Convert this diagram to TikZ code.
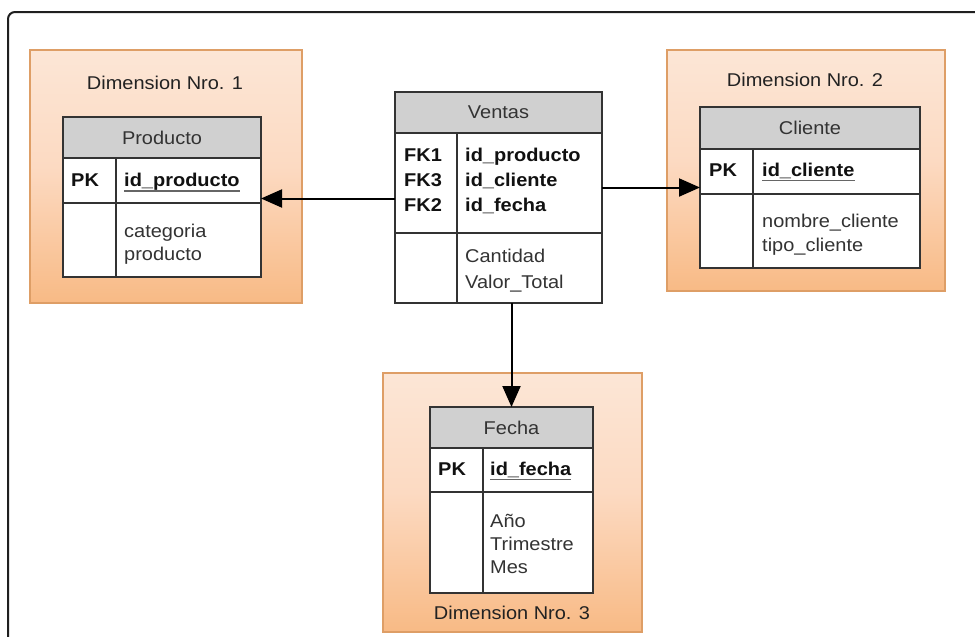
\documentclass[tikz,border=0pt]{standalone}
\usepackage{fontspec}
\setmainfont{Liberation Sans}[FakeStretch=1.08]
\usetikzlibrary{arrows.meta}
\newcommand\dfont{\fontsize{18.5pt}{24pt}\selectfont}
\definecolor{tline}{HTML}{333333}
\definecolor{hdrgray}{HTML}{D0D0D0}
\definecolor{hdrtext}{HTML}{333333}
\definecolor{dimedge}{HTML}{DE9E66}
\definecolor{dimbot}{HTML}{F8BA85}
\definecolor{dimmid}{HTML}{FCDAC2}
\definecolor{dimtop}{HTML}{FCE6D6}
\definecolor{titletext}{HTML}{222222}
\definecolor{attrtext}{HTML}{333333}
\definecolor{keytext}{HTML}{111111}
\definecolor{ulinecol}{HTML}{666666}
\pgfdeclareverticalshading{dimshade}{100bp}{color(0bp)=(dimbot); color(25bp)=(dimbot); color(52bp)=(dimmid); color(75bp)=(dimtop); color(100bp)=(dimtop)}
\tikzset{
  cell/.style={draw=tline, line width=1.9pt, fill=white, inner sep=0pt, outer sep=0pt, anchor=north west},
  hdr/.style={cell, fill=hdrgray, text=hdrtext, font=\dfont},
  dimbox/.style={draw=dimedge, line width=1.4pt, inner sep=0pt, outer sep=0pt, anchor=north west, shading=dimshade},
  dimtitle/.style={inner sep=0pt, text=titletext, font=\dfont},
  keytxt/.style={anchor=base west, inner sep=0pt, text=keytext, font=\dfont\bfseries},
  attr/.style={anchor=base west, inner sep=0pt, text=attrtext, font=\dfont},
  uline/.style={draw=ulinecol, line width=1.4pt},
  arr/.style={draw=black, line width=2pt, -{Triangle[length=21pt,width=18pt]}},
  frame/.style={draw=black!88, line width=2pt, rounded corners=7pt},
}
\begin{document}
\begin{tikzpicture}[x=1pt,y=-1pt]
\useasboundingbox (0,0) rectangle (975,637);
\fill[white] (0,0) rectangle (975,637);
\clip (0,0) rectangle (975,637);
% outer frame
\draw[frame] (8,660) -- (8,12) -- (1000,12);

% dimension boxes
\node[dimbox, minimum width=272, minimum height=253] (dim1) at (30,50) {};
\node[dimbox, minimum width=278, minimum height=241] (dim2) at (667,50) {};
\node[dimbox, minimum width=259, minimum height=259] (dim3) at (383,373) {};
\node[dimtitle] (dim1t) at (165,83) {Dimension Nro. 1};
\node[dimtitle] (dim2t) at (805,80) {Dimension Nro. 2};
\node[dimtitle] (dim3t) at (512,613) {Dimension Nro. 3};

% Producto
\node[hdr, minimum width=198, minimum height=41] (prodH) at (63,117) {Producto};
\node[cell, minimum width=53, minimum height=45] (prodKL) at (63,158) {};
\node[cell, minimum width=145, minimum height=45] (prodK) at (116,158) {};
\node[cell, minimum width=53, minimum height=74] (prodBL) at (63,203) {};
\node[cell, minimum width=145, minimum height=74] (prodB) at (116,203) {};
\node[keytxt] (prodpk) at (71,186) {PK};
\node[keytxt] (prodid) at (124,186) {id\_producto};
\draw[uline] ([yshift=-5pt]prodid.base west) -- ([yshift=-5pt]prodid.base east);
\node[attr] (proda1) at (124,237) {categoria};
\node[attr] (proda2) at (124,260) {producto};

% Ventas
\node[hdr, minimum width=207, minimum height=41] (venH) at (395,92) {Ventas};
\node[cell, minimum width=62, minimum height=100] (venKL) at (395,133) {};
\node[cell, minimum width=145, minimum height=100] (venK) at (457,133) {};
\node[cell, minimum width=62, minimum height=70] (venBL) at (395,233) {};
\node[cell, minimum width=145, minimum height=70] (venB) at (457,233) {};
\node[keytxt] (venfk1) at (404,161) {FK1};
\node[keytxt] (venfk3) at (404,186) {FK3};
\node[keytxt] (venfk2) at (404,211) {FK2};
\node[keytxt] (venid1) at (465,161) {id\_producto};
\node[keytxt] (venid2) at (465,186) {id\_cliente};
\node[keytxt] (venid3) at (465,211) {id\_fecha};
\node[attr] (vena1) at (465,262) {Cantidad};
\node[attr] (vena2) at (465,288) {Valor\_Total};

% Cliente
\node[hdr, minimum width=220, minimum height=42] (cliH) at (700,107) {Cliente};
\node[cell, minimum width=53, minimum height=45] (cliKL) at (700,149) {};
\node[cell, minimum width=167, minimum height=45] (cliK) at (753,149) {};
\node[cell, minimum width=53, minimum height=74] (cliBL) at (700,194) {};
\node[cell, minimum width=167, minimum height=74] (cliB) at (753,194) {};
\node[keytxt] (clipk) at (709,176) {PK};
\node[keytxt] (cliid) at (762,176) {id\_cliente};
\draw[uline] ([yshift=-4.5pt]cliid.base west) -- ([yshift=-4.5pt]cliid.base east);
\node[attr] (clia1) at (762,227) {nombre\_cliente};
\node[attr] (clia2) at (762,251) {tipo\_cliente};

% Fecha
\node[hdr, minimum width=163, minimum height=41] (fecH) at (430,407) {Fecha};
\node[cell, minimum width=53, minimum height=44] (fecKL) at (430,448) {};
\node[cell, minimum width=110, minimum height=44] (fecK) at (483,448) {};
\node[cell, minimum width=53, minimum height=101] (fecBL) at (430,492) {};
\node[cell, minimum width=110, minimum height=101] (fecB) at (483,492) {};
\node[keytxt] (fecpk) at (438,475) {PK};
\node[keytxt] (fecid) at (490,475) {id\_fecha};
\draw[uline] ([yshift=-4.5pt]fecid.base west) -- ([yshift=-4.5pt]fecid.base east);
\node[attr] (feca1) at (490,527) {Año};
\node[attr] (feca2) at (490,550) {Trimestre};
\node[attr] (feca3) at (490,573) {Mes};

% connectors
\draw[arr] ([yshift=-15.5pt]venKL.west) -- ([yshift=-15.5pt]venKL.west -| prodK.east);
\draw[arr] ([yshift=-4.5pt]venK.east) -- ([yshift=-4.5pt]venK.east -| cliKL.west);
\draw[arr] (venB.south -| fecH.north) -- (fecH.north);
\end{tikzpicture}
\end{document}
